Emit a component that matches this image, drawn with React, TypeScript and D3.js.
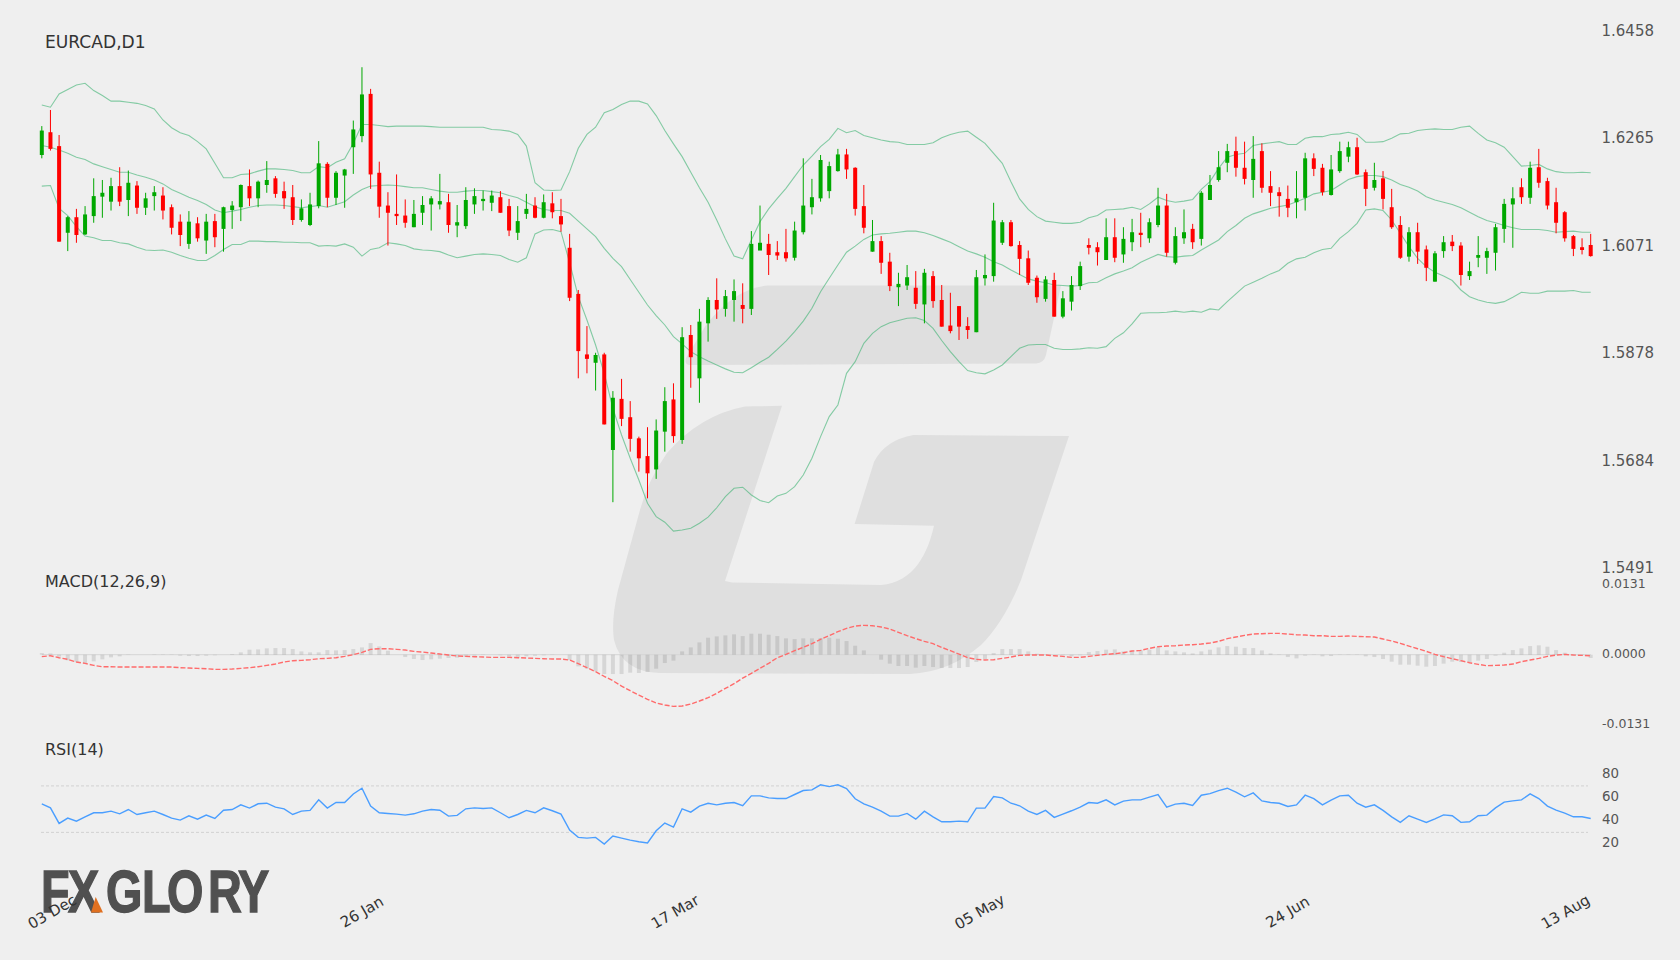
import React from "react";
import * as d3 from "d3";

const title = "EURCAD,D1";
const macdTitle = "MACD(12,26,9)";
const rsiTitle = "RSI(14)";
const priceTicks = [1.6458, 1.6265, 1.6071, 1.5878, 1.5684, 1.5491];
const macdTicks = [0.0131, 0, -0.0131];
const rsiTicks = [80, 60, 40, 20];
const rsiLevels = [70, 30];
const dateLabels = ["03 Dec", "26 Jan", "17 Mar", "05 May", "24 Jun", "13 Aug"];
const dateBars = [1.2, 37, 73.2, 108.4, 144, 176.1];

const open = [1.6233,1.6274,1.6249,1.6093,1.6121,1.6090,1.6123,1.6158,1.6149,1.6177,
1.6152,1.6178,1.6138,1.6159,1.6160,1.6139,1.6113,1.6073,1.6110,1.6079,
1.6114,1.6100,1.6134,1.6139,1.6177,1.6155,1.6179,1.6191,1.6168,1.6157,
1.6116,1.6107,1.6141,1.6217,1.6156,1.6196,1.6247,1.6267,1.6343,1.6201,
1.6142,1.6127,1.6124,1.6103,1.6129,1.6144,1.6144,1.6148,1.6106,1.6105,
1.6144,1.6150,1.6147,1.6157,1.6141,1.6093,1.6127,1.6142,1.6120,1.6146,
1.6123,1.6066,1.5983,1.5874,1.5859,1.5874,1.5702,1.5794,1.5761,1.5723,
1.5691,1.5667,1.5735,1.5793,1.5720,1.5909,1.5831,1.5930,1.5972,1.5956,
1.5972,1.5963,1.5956,1.6061,1.6073,1.6058,1.6058,1.6048,1.6094,1.6139,
1.6155,1.6168,1.6204,1.6234,1.6210,1.6141,1.6059,1.6078,1.6041,1.5995,
1.5998,1.5994,1.5964,1.6015,1.5972,1.5926,1.5961,1.5925,1.5914,1.6011,
1.6015,1.6075,1.6112,1.6071,1.6047,1.6012,1.5974,1.6008,1.5942,1.5969,
1.5997,1.6071,1.6067,1.6044,1.6085,1.6054,1.6076,1.6093,1.6083,1.6107,
1.6142,1.6039,1.6083,1.6100,1.6082,1.6152,1.6188,1.6219,1.6240,1.6210,
1.6188,1.6240,1.6177,1.6166,1.6154,1.6148,1.6156,1.6227,1.6210,1.6161,
1.6204,1.6230,1.6247,1.6202,1.6174,1.6191,1.6139,1.6107,1.6050,1.6094,
1.6063,1.6005,1.6060,1.6077,1.6070,1.6015,1.6048,1.6048,1.6057,1.6100,
1.6144,1.6175,1.6156,1.6211,1.6186,1.6148,1.6130,1.6087,1.6067,1.6071];

const close = [1.6277,1.6244,1.6077,1.6121,1.6089,1.6126,1.6159,1.6165,1.6177,1.6149,
1.6183,1.6138,1.6155,1.6166,1.6133,1.6102,1.6089,1.6113,1.6083,1.6113,
1.6085,1.6139,1.6142,1.6179,1.6155,1.6185,1.6188,1.6163,1.6155,1.6116,
1.6137,1.6144,1.6218,1.6156,1.6201,1.6207,1.6279,1.6342,1.6198,1.6140,
1.6129,1.6123,1.6111,1.6127,1.6143,1.6155,1.6150,1.6107,1.6112,1.6152,
1.6159,1.6154,1.6160,1.6129,1.6097,1.6114,1.6136,1.6120,1.6148,1.6130,
1.6108,1.5976,1.5880,1.5866,1.5873,1.5748,1.5796,1.5758,1.5722,1.5687,
1.5660,1.5737,1.5790,1.5727,1.5905,1.5869,1.5933,1.5972,1.5955,1.5979,
1.5988,1.5956,1.6073,1.6075,1.6053,1.6052,1.6047,1.6097,1.6142,1.6157,
1.6224,1.6213,1.6234,1.6207,1.6136,1.6102,1.6078,1.6039,1.5997,1.6001,
1.6013,1.5965,1.6021,1.5970,1.5924,1.5916,1.5924,1.5918,1.6013,1.6017,
1.6115,1.6112,1.6069,1.6046,1.6003,1.5977,1.6009,1.5942,1.5975,1.5999,
1.6033,1.6066,1.6058,1.6085,1.6048,1.6082,1.6094,1.6089,1.6112,1.6142,
1.6057,1.6087,1.6094,1.6076,1.6165,1.6179,1.6211,1.6240,1.6210,1.6190,
1.6226,1.6174,1.6165,1.6159,1.6138,1.6155,1.6227,1.6208,1.6166,1.6207,
1.6240,1.6247,1.6198,1.6172,1.6188,1.6154,1.6103,1.6048,1.6094,1.6059,
1.6030,1.6056,1.6076,1.6069,1.6017,1.6024,1.6053,1.6060,1.6103,1.6145,
1.6155,1.6157,1.6210,1.6183,1.6142,1.6111,1.6083,1.6064,1.6062,1.6051];

const high = [1.6285,1.6314,1.6269,1.6123,1.6136,1.6141,1.6191,1.6188,1.6192,1.6211,
1.6205,1.6186,1.6165,1.6177,1.6175,1.6144,1.6126,1.6132,1.6121,1.6127,
1.6127,1.6140,1.6150,1.6180,1.6207,1.6187,1.6222,1.6195,1.6185,1.6179,
1.6153,1.6165,1.6258,1.6220,1.6204,1.6208,1.6295,1.6391,1.6352,1.6221,
1.6166,1.6198,1.6153,1.6152,1.6159,1.6159,1.6199,1.6163,1.6143,1.6175,
1.6173,1.6169,1.6169,1.6168,1.6154,1.6141,1.6163,1.6157,1.6162,1.6166,
1.6154,1.6091,1.5990,1.5925,1.5877,1.5877,1.5808,1.5830,1.5790,1.5726,
1.5743,1.5757,1.5815,1.5822,1.5923,1.5927,1.5956,1.5977,1.6011,1.5990,
1.6009,1.6002,1.6096,1.6142,1.6091,1.6078,1.6100,1.6113,1.6227,1.6190,
1.6233,1.6221,1.6244,1.6244,1.6211,1.6179,1.6116,1.6087,1.6057,1.6021,
1.6035,1.6024,1.6028,1.6024,1.5999,1.5985,1.5961,1.5941,1.6026,1.6054,
1.6147,1.6116,1.6116,1.6078,1.6061,1.6016,1.6015,1.6021,1.5988,1.6015,
1.6041,1.6083,1.6076,1.6119,1.6119,1.6103,1.6118,1.6129,1.6119,1.6174,
1.6163,1.6103,1.6135,1.6109,1.6168,1.6197,1.6240,1.6253,1.6266,1.6257,
1.6267,1.6254,1.6204,1.6175,1.6178,1.6204,1.6237,1.6236,1.6217,1.6233,
1.6257,1.6257,1.6264,1.6207,1.6219,1.6204,1.6172,1.6123,1.6103,1.6111,
1.6070,1.6060,1.6087,1.6089,1.6076,1.6041,1.6087,1.6066,1.6109,1.6154,
1.6175,1.6191,1.6221,1.6244,1.6192,1.6174,1.6132,1.6089,1.6083,1.6091];

const low = [1.6227,1.6241,1.6077,1.6060,1.6075,1.6089,1.6111,1.6120,1.6133,1.6141,
1.6123,1.6127,1.6125,1.6133,1.6117,1.6090,1.6069,1.6064,1.6077,1.6055,
1.6067,1.6059,1.6100,1.6114,1.6141,1.6139,1.6165,1.6156,1.6136,1.6107,
1.6113,1.6105,1.6137,1.6139,1.6143,1.6138,1.6199,1.6256,1.6172,1.6120,
1.6070,1.6107,1.6102,1.6103,1.6107,1.6097,1.6135,1.6093,1.6085,1.6100,
1.6127,1.6133,1.6132,1.6129,1.6087,1.6080,1.6118,1.6119,1.6119,1.6119,
1.6095,1.5970,1.5831,1.5840,1.5809,1.5748,1.5608,1.5745,1.5699,1.5663,
1.5615,1.5650,1.5699,1.5715,1.5713,1.5814,1.5787,1.5897,1.5938,1.5942,
1.5933,1.5930,1.5945,1.6062,1.6017,1.6044,1.6041,1.6043,1.6090,1.6126,
1.6149,1.6155,1.6203,1.6190,1.6124,1.6092,1.6059,1.6019,1.5988,1.5961,
1.5990,1.5956,1.5930,1.5958,1.5924,1.5912,1.5900,1.5902,1.5914,1.5998,
1.6005,1.6071,1.6068,1.6017,1.5999,1.5967,1.5969,1.5942,1.5939,1.5953,
1.5990,1.6054,1.6034,1.6044,1.6040,1.6039,1.6060,1.6067,1.6075,1.6103,
1.6050,1.6036,1.6073,1.6064,1.6070,1.6152,1.6185,1.6202,1.6194,1.6180,
1.6156,1.6165,1.6141,1.6122,1.6121,1.6119,1.6133,1.6195,1.6160,1.6160,
1.6201,1.6220,1.6197,1.6141,1.6169,1.6135,1.6100,1.6046,1.6041,1.6037,
1.6006,1.6005,1.6048,1.6060,1.5998,1.6008,1.6031,1.6019,1.6025,1.6075,
1.6066,1.6145,1.6145,1.6174,1.6135,1.6092,1.6077,1.6051,1.6054,1.6050];

const bbUpper = [1.6323,1.6319,1.6343,1.6351,1.6359,1.6362,1.6349,1.6340,1.6330,1.6330,
1.6328,1.6326,1.6322,1.6316,1.6296,1.6282,1.6273,1.6268,1.6257,1.6244,
1.6218,1.6192,1.6192,1.6198,1.6199,1.6204,1.6208,1.6208,1.6207,1.6205,
1.6201,1.6201,1.6212,1.6210,1.6220,1.6226,1.6254,1.6288,1.6288,1.6286,
1.6284,1.6285,1.6285,1.6285,1.6285,1.6284,1.6283,1.6283,1.6283,1.6283,
1.6283,1.6283,1.6279,1.6278,1.6276,1.6270,1.6249,1.6183,1.6170,1.6169,
1.6170,1.6203,1.6245,1.6270,1.6283,1.6309,1.6315,1.6324,1.6330,1.6330,
1.6325,1.6304,1.6277,1.6253,1.6230,1.6202,1.6174,1.6148,1.6116,1.6082,
1.6051,1.6046,1.6080,1.6113,1.6136,1.6155,1.6173,1.6194,1.6215,1.6231,
1.6248,1.6261,1.6281,1.6273,1.6277,1.6268,1.6264,1.6260,1.6257,1.6256,
1.6252,1.6252,1.6252,1.6255,1.6264,1.6270,1.6274,1.6276,1.6265,1.6254,
1.6236,1.6218,1.6185,1.6154,1.6135,1.6122,1.6114,1.6112,1.6110,1.6110,
1.6112,1.6120,1.6124,1.6134,1.6135,1.6136,1.6139,1.6135,1.6145,1.6157,
1.6151,1.6148,1.6150,1.6153,1.6171,1.6185,1.6209,1.6229,1.6234,1.6236,
1.6250,1.6253,1.6255,1.6257,1.6252,1.6252,1.6263,1.6266,1.6266,1.6270,
1.6271,1.6274,1.6270,1.6256,1.6256,1.6257,1.6263,1.6271,1.6272,1.6277,
1.6279,1.6280,1.6279,1.6279,1.6283,1.6285,1.6272,1.6260,1.6255,1.6247,
1.6230,1.6213,1.6214,1.6216,1.6208,1.6203,1.6201,1.6201,1.6202,1.6201];

const bbMiddle = [1.6250,1.6247,1.6242,1.6236,1.6229,1.6225,1.6217,1.6212,1.6207,1.6202,
1.6202,1.6197,1.6193,1.6188,1.6181,1.6171,1.6164,1.6157,1.6151,1.6144,
1.6134,1.6129,1.6132,1.6135,1.6139,1.6142,1.6143,1.6143,1.6142,1.6140,
1.6138,1.6140,1.6142,1.6139,1.6144,1.6149,1.6161,1.6171,1.6177,1.6178,
1.6179,1.6178,1.6176,1.6174,1.6174,1.6171,1.6168,1.6166,1.6166,1.6168,
1.6169,1.6169,1.6167,1.6165,1.6160,1.6156,1.6148,1.6140,1.6135,1.6133,
1.6133,1.6128,1.6114,1.6100,1.6086,1.6065,1.6047,1.6032,1.6009,1.5986,
1.5963,1.5944,1.5927,1.5906,1.5893,1.5879,1.5870,1.5862,1.5855,1.5848,
1.5842,1.5841,1.5850,1.5860,1.5869,1.5883,1.5898,1.5915,1.5934,1.5957,
1.5987,1.6011,1.6035,1.6058,1.6069,1.6081,1.6089,1.6091,1.6092,1.6094,
1.6096,1.6096,1.6093,1.6088,1.6082,1.6076,1.6068,1.6060,1.6055,1.6049,
1.6041,1.6035,1.6026,1.6018,1.6010,1.6006,1.6003,1.5999,1.5998,1.5997,
1.5998,1.6003,1.6004,1.6012,1.6019,1.6024,1.6030,1.6040,1.6047,1.6054,
1.6050,1.6049,1.6051,1.6052,1.6062,1.6071,1.6080,1.6095,1.6106,1.6119,
1.6127,1.6132,1.6137,1.6140,1.6143,1.6149,1.6155,1.6163,1.6166,1.6169,
1.6179,1.6189,1.6194,1.6196,1.6196,1.6194,1.6188,1.6180,1.6175,1.6168,
1.6158,1.6152,1.6148,1.6144,1.6138,1.6130,1.6122,1.6115,1.6111,1.6106,
1.6102,1.6099,1.6099,1.6099,1.6097,1.6094,1.6095,1.6096,1.6094,1.6094];

const bbLower = [1.6177,1.6178,1.6137,1.6124,1.6104,1.6087,1.6084,1.6079,1.6079,1.6075,
1.6073,1.6067,1.6062,1.6061,1.6062,1.6058,1.6052,1.6047,1.6043,1.6043,
1.6052,1.6063,1.6072,1.6072,1.6078,1.6078,1.6077,1.6077,1.6076,1.6076,
1.6075,1.6075,1.6069,1.6070,1.6069,1.6073,1.6067,1.6051,1.6063,1.6066,
1.6075,1.6073,1.6070,1.6064,1.6062,1.6061,1.6059,1.6053,1.6048,1.6051,
1.6054,1.6055,1.6054,1.6052,1.6045,1.6040,1.6048,1.6091,1.6098,1.6099,
1.6095,1.6039,1.5978,1.5936,1.5891,1.5840,1.5777,1.5729,1.5687,1.5648,
1.5606,1.5582,1.5572,1.5556,1.5558,1.5561,1.5570,1.5581,1.5598,1.5618,
1.5633,1.5635,1.5621,1.5611,1.5607,1.5619,1.5624,1.5636,1.5657,1.5687,
1.5726,1.5762,1.5783,1.5840,1.5861,1.5894,1.5912,1.5924,1.5931,1.5935,
1.5939,1.5940,1.5935,1.5921,1.5899,1.5879,1.5861,1.5845,1.5841,1.5839,
1.5846,1.5855,1.5870,1.5885,1.5891,1.5892,1.5892,1.5885,1.5883,1.5883,
1.5884,1.5886,1.5885,1.5888,1.5903,1.5913,1.5929,1.5948,1.5949,1.5949,
1.5950,1.5952,1.5950,1.5952,1.5950,1.5956,1.5954,1.5969,1.5983,1.5997,
1.6004,1.6011,1.6019,1.6025,1.6038,1.6046,1.6049,1.6057,1.6063,1.6065,
1.6083,1.6095,1.6110,1.6134,1.6136,1.6133,1.6116,1.6092,1.6068,1.6047,
1.6032,1.6022,1.6015,1.6007,1.5990,1.5978,1.5972,1.5968,1.5966,1.5969,
1.5977,1.5986,1.5984,1.5984,1.5988,1.5988,1.5988,1.5989,1.5986,1.5986];

const macdSignal = [-0.00037,-0.00019,-0.00056,-0.00087,-0.00137,-0.00162,-0.002,-0.00225,-0.00225,-0.00231,
-0.00231,-0.00231,-0.00231,-0.00231,-0.00231,-0.00231,-0.00243,-0.0025,-0.00256,-0.00262,
-0.00275,-0.00275,-0.00268,-0.00256,-0.00243,-0.00225,-0.002,-0.00175,-0.00137,-0.00112,
-0.00106,-0.00094,-0.00075,-0.00069,-0.00056,-0.00031,0,0.00044,0.001,0.00112,
0.00112,0.001,0.00087,0.00062,0.0005,0.00031,0.00012,-0.00006,-0.00025,-0.00031,
-0.00037,-0.00044,-0.0005,-0.0005,-0.0005,-0.00056,-0.00062,-0.00069,-0.00075,-0.00081,
-0.00081,-0.001,-0.00168,-0.00243,-0.00318,-0.00406,-0.00487,-0.00587,-0.00674,-0.00755,
-0.00836,-0.00905,-0.00942,-0.00967,-0.00961,-0.00924,-0.00867,-0.00805,-0.00724,-0.0063,
-0.00543,-0.00437,-0.00349,-0.00256,-0.00162,-0.00056,0.00006,0.00075,0.00137,0.00206,
0.00287,0.00356,0.00431,0.00493,0.00537,0.00549,0.00543,0.00518,0.0048,0.00418,
0.00356,0.003,0.0025,0.00206,0.00137,0.00075,0.00012,-0.00056,-0.00087,-0.001,
-0.00094,-0.00069,-0.00044,-0.00012,-0.00006,-0.00006,-0.00006,-0.00019,-0.00031,-0.0005,
-0.0005,-0.00031,-0.00012,0.00006,0.00019,0.00037,0.00069,0.00081,0.00119,0.0015,
0.00162,0.00168,0.00181,0.00187,0.002,0.00218,0.0025,0.003,0.00331,0.00362,
0.00387,0.00393,0.00399,0.00399,0.00387,0.00374,0.00368,0.00356,0.00356,0.00343,
0.00343,0.00349,0.00343,0.00337,0.00331,0.00293,0.00256,0.00212,0.00162,0.00112,
0.00062,0.00006,-0.00037,-0.00075,-0.00112,-0.0015,-0.00181,-0.00206,-0.002,-0.00193,
-0.00175,-0.00131,-0.001,-0.00069,-0.00031,-0.00006,0.00006,-0.00006,-0.00012,-0.00019];

const macdHist = [0.00031,0.00025,-0.00037,-0.00106,-0.00137,-0.00156,-0.00125,-0.00087,-0.0005,-0.00031,
-0.00006,0,0,0.00006,0.00006,-0.00006,-0.00019,-0.00025,-0.00025,-0.00019,
-0.00012,0,0.00012,0.00044,0.00094,0.001,0.00119,0.00125,0.00125,0.00106,
0.00062,0.00044,0.00044,0.00087,0.00081,0.00087,0.00106,0.00137,0.00218,0.00156,
0.00075,0,-0.00044,-0.00081,-0.001,-0.00087,-0.00075,-0.00062,-0.00056,-0.00044,
-0.00019,-0.00006,0,-0.00012,-0.00037,-0.00056,-0.00031,-0.00019,-0.00012,-0.00006,
0,-0.001,-0.00218,-0.00262,-0.00312,-0.00362,-0.00362,-0.00362,-0.00337,-0.00343,
-0.00324,-0.00262,-0.00156,-0.00112,0.00062,0.00137,0.00231,0.00318,0.00343,0.00362,
0.00381,0.00349,0.00393,0.00393,0.00374,0.00349,0.00306,0.00293,0.00306,0.00306,
0.00312,0.00318,0.003,0.00256,0.00168,0.00081,0,-0.00094,-0.00168,-0.00212,
-0.00212,-0.00243,-0.00212,-0.00231,-0.0025,-0.0025,-0.0025,-0.00231,-0.00137,-0.00081,
0.00031,0.00106,0.00106,0.00106,0.00062,0.00019,0.00006,0,-0.00012,-0.00031,
-0.00012,0.0005,0.00069,0.00094,0.001,0.00062,0.00075,0.00081,0.00094,0.00137,
0.00081,0.00062,0.00044,0.00025,0.00062,0.00094,0.00137,0.00162,0.0015,0.00125,
0.00125,0.00081,0.00025,0.00006,-0.00044,-0.00069,-0.00019,-0.00006,-0.00031,-0.00025,
-0.00006,0.00006,-0.00006,-0.00031,-0.00044,-0.00081,-0.00131,-0.00187,-0.00187,-0.00206,
-0.00225,-0.00212,-0.00168,-0.00131,-0.00137,-0.00137,-0.00112,-0.00081,-0.00019,0.00037,
0.00087,0.00119,0.00162,0.00175,0.0015,0.00087,0.00037,0.00012,0.00006,-0.00062];

const rsi = [54.6,51.1,37.7,42.3,39.7,43.4,46.9,46.9,48.3,46.0,
49.7,45.4,46.9,48.3,45.4,42.3,40.6,44.3,41.4,44.9,
42.0,49.1,49.7,53.7,50.9,54.6,55.1,51.7,50.3,45.4,
48.3,48.9,58.0,50.9,55.7,55.7,63.1,68.0,52.6,46.9,
46.3,45.7,44.9,46.0,48.3,49.7,49.1,44.0,44.6,50.3,
51.1,50.6,51.1,46.9,42.6,45.4,48.9,46.9,51.1,48.6,
45.7,32.0,25.7,25.1,25.7,20.0,26.9,25.1,23.4,22.0,
20.9,31.4,38.0,34.6,50.3,47.4,52.6,55.1,53.7,55.1,
55.7,52.9,61.4,61.4,59.7,59.1,59.1,62.6,66.0,66.6,
70.9,69.4,70.9,67.7,58.9,54.6,51.7,48.3,44.0,44.0,
46.3,41.4,48.3,43.4,39.1,39.1,39.7,39.1,50.9,50.9,
60.9,59.7,55.1,52.9,48.3,45.4,48.9,42.9,45.7,48.6,
51.7,55.7,55.1,58.0,53.7,56.9,58.0,58.0,60.3,62.6,
51.7,54.3,55.1,53.1,62.0,63.4,66.0,68.0,64.6,60.6,
64.0,57.1,55.7,55.1,52.3,53.7,62.0,59.1,53.7,57.7,
61.4,62.0,55.1,51.7,53.7,48.9,43.4,38.6,44.3,41.4,
38.6,41.7,45.1,44.3,38.6,39.1,44.3,44.9,51.1,56.0,
57.1,58.0,63.1,59.1,52.6,49.1,46.6,43.4,43.4,42.0];

const BG = "#efefef";
const FONT = "'DejaVu Sans', sans-serif";
const N = open.length;

const x = d3.scaleLinear().domain([0, N - 1]).range([41.8, 1590.7]);
const yPrice = d3.scaleLinear().domain([1.6458, 1.5491]).range([30, 567.2]);
const yMacd = d3.scaleLinear().domain([0.0131, -0.0131]).range([584.7, 724.7]);
const yRsi = d3.scaleLinear().domain([70, 30]).range([785.9, 832.4]);

const idx = d3.range(N);
const lineOf = (vals: number[], y: d3.ScaleLinear<number, number>) =>
  d3.line<number>().x((i) => x(i)).y((i) => y(vals[i]))(idx) as string;

const watermarkTop =
  "M768 285.5 L1061 285.5 L1046 355 Q1044 363 1036 363.5 L690 365 Q684 365 686 358 L706 325 Q735 288 768 285.5 Z";
const watermarkG =
  "M782 405.7 L745 406.5 Q700 415 667 453 Q648 480 640 510 L618 590 Q611 620 614 640 Q622 672 660 673 L910 674 Q950 672 981 645 Q1004 622 1021 580 L1069 436 L913.6 435 Q885 440 874 462 L854.6 524 L934 525.7 C928 552 915 582 881 585 L732 582.5 L725 581 Z";

const logoText = "FXGLORY";
const logoLetterX = [41, 68, 106, 142, 167, 208, 238];
const LOGO_SQUEEZE = 0.78;

export default function App() {
  return (
    <svg
      width={1680}
      height={960}
      viewBox="0 0 1680 960"
      style={{ position: "fixed", left: 0, top: 0, background: BG, fontFamily: FONT }}
    >
      <path d={watermarkTop} fill="#dfdfdf" />
      <path d={watermarkG} fill="#dfdfdf" />

      <g fill="none" stroke="#3cb371" strokeOpacity={0.6} strokeWidth={1.1}>
        <path d={lineOf(bbUpper, yPrice)} />
        <path d={lineOf(bbMiddle, yPrice)} />
        <path d={lineOf(bbLower, yPrice)} />
      </g>

      <g>
        {idx.map((i) => {
          const up = close[i] >= open[i];
          const c = up ? "#00a800" : "#ff0000";
          const top = yPrice(Math.max(open[i], close[i]));
          const bot = yPrice(Math.min(open[i], close[i]));
          return (
            <g key={i}>
              <line x1={x(i)} x2={x(i)} y1={yPrice(high[i])} y2={yPrice(low[i])} stroke={c} strokeWidth={1} />
              <rect x={x(i) - 2} y={top} width={4} height={Math.max(bot - top, 1)} fill={c} />
            </g>
          );
        })}
      </g>

      <line x1={x(0)} x2={x(N - 1)} y1={yMacd(0)} y2={yMacd(0)} stroke="#d6d6d6" strokeWidth={1} />
      <g fill="#000" fillOpacity={0.1}>
        {idx.map((i) => (
          <rect
            key={i}
            x={x(i) - 2}
            y={Math.min(yMacd(0), yMacd(macdHist[i]))}
            width={4}
            height={Math.abs(yMacd(macdHist[i]) - yMacd(0))}
          />
        ))}
      </g>
      <path d={lineOf(macdSignal, yMacd)} fill="none" stroke="#ff6b6b" strokeWidth={1.4} strokeDasharray="5 2" />

      {rsiLevels.map((v) => (
        <line key={v} x1={41} x2={1588} y1={yRsi(v)} y2={yRsi(v)} stroke="#d2d2d2" strokeWidth={1} strokeDasharray="3 2" />
      ))}
      <path d={lineOf(rsi, yRsi)} fill="none" stroke="#4a9eff" strokeWidth={1.4} />

      <text x={45} y={48} fontSize={17.1} fill="#333">{title}</text>
      <text x={45} y={587.3} fontSize={16} fill="#333">{macdTitle}</text>
      <text x={45} y={755.3} fontSize={16} fill="#333">{rsiTitle}</text>

      {priceTicks.map((v) => (
        <text key={v} x={1601.5} y={yPrice(v) + 5.6} fontSize={15} fill="#555">{v.toFixed(4)}</text>
      ))}
      {macdTicks.map((v) => (
        <text key={v} x={1602} y={yMacd(v) + 3.2} fontSize={12.5} fill="#555">{v.toFixed(4)}</text>
      ))}
      {rsiTicks.map((v) => (
        <text key={v} x={1602} y={yRsi(v) + 3.4} fontSize={13.4} fill="#555">{v}</text>
      ))}

      <text
        transform={`scale(${LOGO_SQUEEZE},1)`}
        x={logoLetterX.map((v) => v / LOGO_SQUEEZE).join(" ")}
        y={912.5}
        fontFamily="'Liberation Sans', sans-serif"
        fontWeight={700}
        fontSize={60}
        fill="#505050"
        stroke="#505050"
        strokeWidth={1.4}
      >
        {logoText}
      </text>
      <polygon points="91,912.5 95.7,897 103,912.5" fill="#e07020" />

      {dateLabels.map((t, k) => (
        <text
          key={t}
          transform={`translate(${x(dateBars[k])},912) rotate(-30)`}
          textAnchor="middle"
          dominantBaseline="central"
          fontSize={15}
          fill="#333"
        >
          {t}
        </text>
      ))}
    </svg>
  );
}
